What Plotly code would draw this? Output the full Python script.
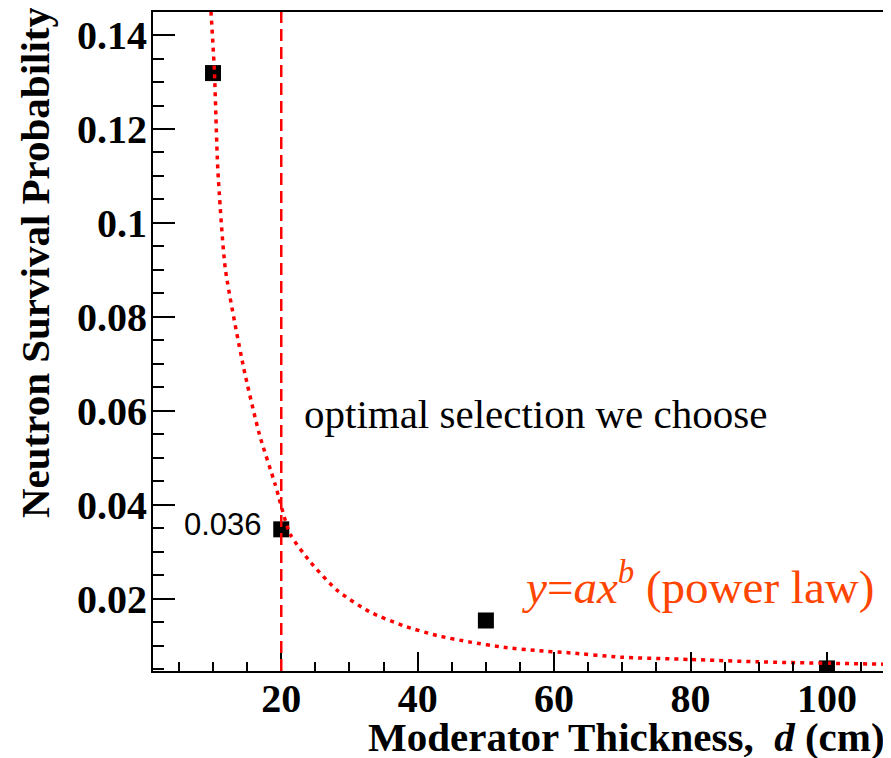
import plotly.graph_objects as go

# measured points
thickness = [10, 20, 50, 100]
survival = [0.1319, 0.0348, 0.0154, 0.0052]

# power-law fit curve
fit_x = [9.7, 10.2, 10.7, 11.8, 14.5, 16.8, 19.1, 21.3, 24.3, 28.2, 33.0, 37.9,
         42.8, 47.7, 52.6, 57.5, 62.4, 69.7, 80, 90, 100, 108.8]
fit_y = [0.145, 0.1324, 0.1115, 0.0903, 0.0691, 0.0550, 0.0444, 0.0338, 0.0278,
         0.0218, 0.0172, 0.0143, 0.0122, 0.0108, 0.0097, 0.0090, 0.0085, 0.0076,
         0.0071, 0.0066, 0.0063, 0.0061]

selected_x = 20
selected_label = "0.036"

x_ticks = [20, 40, 60, 80, 100]
x_ticktext = ["20", "40", "60", "80", "100"]
y_ticks = [0.02, 0.04, 0.06, 0.08, 0.1, 0.12, 0.14]
y_ticktext = ["0.02", "0.04", "0.06", "0.08", "0.1", "0.12", "0.14"]

x_range = [1.2, 108.8]
y_range = [0.00465, 0.1449]

RED = "#ff0000"
ORANGE = "#ff4500"
SERIF = "Liberation Serif"

fig = go.Figure()

fig.add_trace(go.Scatter(
    x=thickness, y=survival, mode="markers",
    marker=dict(symbol="square", size=16, color="black"),
    showlegend=False, hoverinfo="skip"))

fig.add_trace(go.Scatter(
    x=fit_x, y=fit_y, mode="lines",
    line=dict(color=RED, width=3.5, dash="4px,5px", shape="spline", smoothing=0.6),
    showlegend=False, hoverinfo="skip"))

fig.add_shape(type="line", xref="x", yref="paper", x0=selected_x, x1=selected_x,
              y0=0, y1=1, line=dict(color=RED, width=2.5, dash="12px,6px"),
              layer="above")

tickfont = dict(family=SERIF, size=40, color="black", weight="bold")

fig.update_xaxes(
    range=x_range, tickmode="array", tickvals=x_ticks, ticktext=x_ticktext,
    ticks="inside", ticklen=19, tickwidth=2, tickcolor="black",
    showline=True, linewidth=2, linecolor="black", mirror=True,
    showgrid=False, zeroline=False, tickfont=tickfont, ticklabelstandoff=-9,
    minor=dict(tickmode="linear", tick0=0, dtick=5, ticks="inside",
               ticklen=9, tickwidth=2, tickcolor="black", showgrid=False))
fig.update_yaxes(
    range=y_range, tickmode="array", tickvals=y_ticks, ticktext=y_ticktext,
    ticks="inside", ticklen=22, tickwidth=2, tickcolor="black",
    showline=True, linewidth=2, linecolor="black", mirror=True,
    showgrid=False, zeroline=False, tickfont=tickfont, ticklabelstandoff=-4,
    minor=dict(tickmode="linear", tick0=0, dtick=0.005, ticks="inside",
               ticklen=11, tickwidth=2, tickcolor="black", showgrid=False))

annotations = [
    dict(text="<b>Moderator Thickness,  <i>d</i> (cm)</b>", xref="paper", yref="paper",
         x=1.0, y=-0.062, xanchor="right", yanchor="top", showarrow=False,
         font=dict(family=SERIF, size=41, color="black")),
    dict(text="<b>Neutron Survival Probability</b>", xref="paper", yref="paper",
         x=-0.1608, y=1.012, xanchor="center", yanchor="top", textangle=-90,
         showarrow=False, font=dict(family=SERIF, size=41, color="black")),
    dict(text="optimal selection we choose", xref="x", yref="y",
         x=23.1, y=0.0593, xanchor="left", yanchor="middle", showarrow=False,
         font=dict(family=SERIF, size=41, color="black")),
    dict(text=selected_label, xref="x", yref="y",
         x=17.4, y=0.0358, xanchor="right", yanchor="middle", showarrow=False,
         font=dict(family="Liberation Sans", size=31, color="black")),
    dict(text="<i>y</i>=<i>ax</i><sup><i>b</i></sup> (power law)", xref="x", yref="y",
         x=55.0, y=0.0232, xanchor="left", yanchor="middle", showarrow=False,
         font=dict(family=SERIF, size=47, color=ORANGE)),
]

# the page body adds an 8px offset, so the figure is 8px smaller and margins shifted
fig.update_layout(
    width=883, height=750,
    margin=dict(l=145, r=4, t=2, b=87, pad=0),
    plot_bgcolor="white", paper_bgcolor="white",
    annotations=annotations,
)

fig.write_html("out.html")
